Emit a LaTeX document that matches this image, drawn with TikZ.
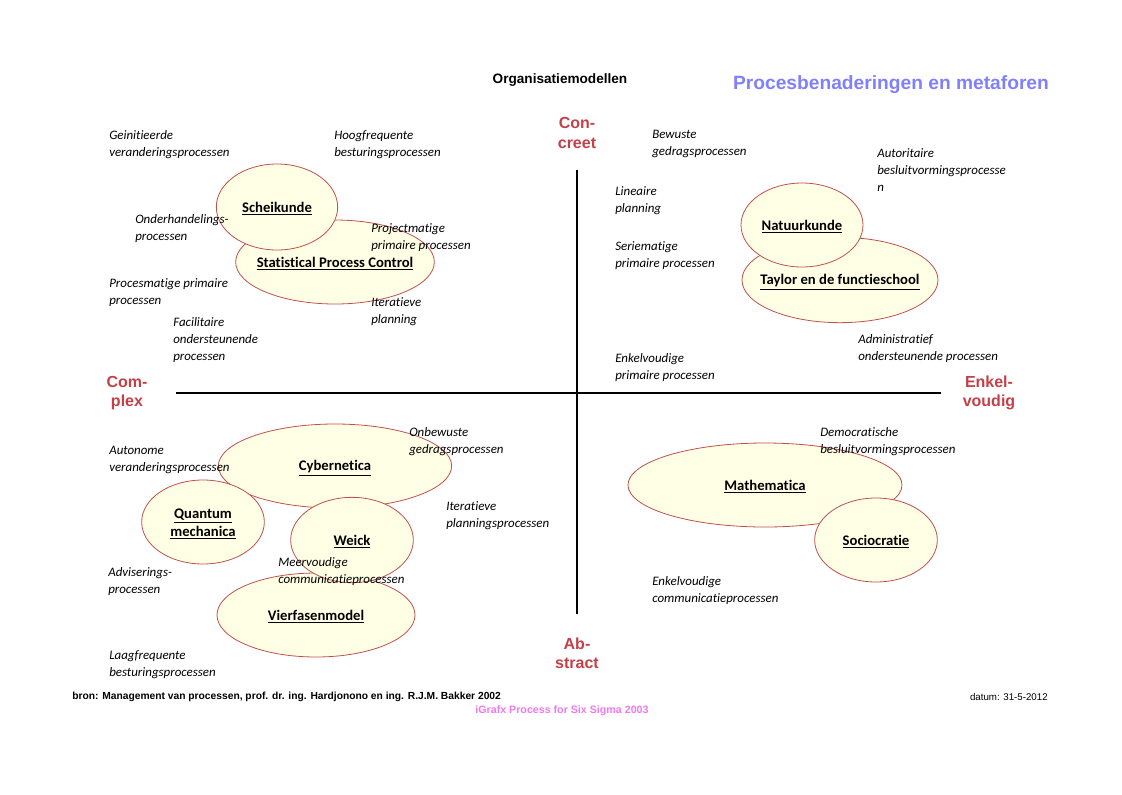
\documentclass[tikz,border=0pt]{standalone}
\usepackage{fontspec}
\setmainfont{Carlito}[Ligatures=NoCommon]
\newfontfamily\arialfont{Liberation Sans}
\usepackage{tikz}
\usetikzlibrary{positioning,shapes}

\definecolor{rand}{RGB}{192,80,77}
\definecolor{vul}{RGB}{255,255,230}
\definecolor{asrood}{RGB}{196,64,72}
\definecolor{titelblauw}{RGB}{128,128,255}
\definecolor{roze}{RGB}{240,120,240}

\begin{document}
\begin{tikzpicture}[x=0.75pt,y=-0.75pt,
    metafoor/.style={ellipse,draw=rand,fill=vul,line width=0.6pt,inner sep=0pt,
        label={[align=center,yshift=-1.5pt,font=\fontsize{11}{13.5}\selectfont\bfseries]center:#1}},
    proces/.style={anchor=north west,inner sep=0pt,align=left,yshift=-3pt,
        font=\fontsize{9.7}{12.75}\selectfont\itshape},
    as/.style={align=center,text=asrood,font=\arialfont\fontsize{12}{14.5}\selectfont\bfseries}]
    \useasboundingbox (0,0) rectangle (1122,794);

    % koppen
    \node[font=\arialfont\fontsize{10.2}{12}\selectfont\bfseries] (kop) at (560,80) {Organisatiemodellen};
    \node[text=titelblauw,font=\arialfont\fontsize{14.4}{16}\selectfont\bfseries] (titel) at (891,85) {Procesbenaderingen en metaforen};

    % assen
    \coordinate (boven) at (577,170);
    \coordinate (onder) at (577,614);
    \coordinate (links) at (176,393);
    \coordinate (rechts) at (941,393);
    \draw[line width=0.8pt] (boven) -- (onder);
    \draw[line width=0.8pt] (links) -- (rechts);
    \node[as] (concreet) at (577,133) {Con-\\creet};
    \node[as] (complex) at (127,393) {Com-\\plex};
    \node[as] (enkelvoudig) at (989,393) {Enkel-\\voudig};
    \node[as] (abstract) at (577,653) {Ab-\\stract};

    % metaforen
    \node[metafoor={\underline{Statistical Process Control}},minimum width=149pt,minimum height=63pt] (spc) at (335,262) {};
    \node[metafoor={\underline{Scheikunde}},minimum width=91pt,minimum height=64.5pt] (scheikunde) at (277,207) {};
    \node[metafoor={\underline{Taylor en de functieschool}},minimum width=147pt,minimum height=64pt] (taylor) at (840,280) {};
    \node[metafoor={\underline{Natuurkunde}},minimum width=91.5pt,minimum height=63pt] (natuurkunde) at (802,225) {};
    \node[metafoor={\underline{Cybernetica}},minimum width=175pt,minimum height=63pt] (cybernetica) at (335,466) {};
    \node[metafoor={\underline{Quantum}\\\underline{mechanica}},minimum width=92pt,minimum height=63pt] (quantum) at (203,522) {};
    \node[metafoor={\underline{Vierfasenmodel}},minimum width=148.5pt,minimum height=63pt] (vierfasen) at (316,615) {};
    \node[metafoor={\underline{Weick}},minimum width=92pt,minimum height=64pt] (weick) at (352,540) {};
    \node[metafoor={\underline{Mathematica}},minimum width=205.5pt,minimum height=63pt] (mathematica) at (765,485) {};
    \node[metafoor={\underline{Sociocratie}},minimum width=92pt,minimum height=63pt] (sociocratie) at (876,540) {};

    % processen
    \node[proces] (geinitieerd) at (109,126) {Geinitieerde\\veranderingsprocessen};
    \node[proces] (hoogfreq) at (334,126) {Hoogfrequente\\besturingsprocessen};
    \node[proces] (onderhandel) at (135,210) {Onderhandelings-\\processen};
    \node[proces] (projectmatig) at (371,219) {Projectmatige\\primaire processen};
    \node[proces] (procesmatig) at (109,274) {Procesmatige primaire\\processen};
    \node[proces] (iteratief) at (371,293) {Iteratieve\\planning};
    \node[proces] (facilitair) at (173,313) {Facilitaire\\ondersteunende\\processen};
    \node[proces] (bewust) at (652,126) {Bewuste\\gedragsprocessen};
    \node[proces] (autoritair) at (877,144) {Autoritaire\\besluitvormingsprocesse\\n};
    \node[proces] (lineair) at (615,182) {Lineaire\\planning};
    \node[proces] (seriematig) at (615,237) {Seriematige\\primaire processen};
    \node[proces] (administratief) at (858,330) {Administratief\\ondersteunende processen};
    \node[proces] (enkelprimair) at (615,349) {Enkelvoudige\\primaire processen};
    \node[proces] (onbewust) at (409,423) {Onbewuste\\gedragsprocessen};
    \node[proces] (autonoom) at (109,442) {Autonome\\veranderingsprocessen};
    \node[proces] (iteratiefplan) at (446,497) {Iteratieve\\planningsprocessen};
    \node[proces] (advies) at (108,563) {Adviserings-\\processen};
    \node[proces] (meervoudig) at (278,553) {Meervoudige\\communicatieprocessen};
    \node[proces] (laagfreq) at (109,646) {Laagfrequente\\besturingsprocessen};
    \node[proces] (democratisch) at (820,423) {Democratische\\besluitvormingsprocessen};
    \node[proces] (enkelcomm) at (652,572) {Enkelvoudige\\communicatieprocessen};

    % voet
    \node[anchor=west,inner sep=0pt,font=\arialfont\fontsize{7.7}{9}\selectfont\bfseries] (bron) at (72,697) {bron: Management van processen, prof. dr. ing. Hardjonono en ing. R.J.M. Bakker 2002};
    \node[anchor=east,inner sep=0pt,font=\arialfont\fontsize{7.3}{9}\selectfont] (datum) at (1048,697) {datum: 31-5-2012};
    \node[text=roze,font=\arialfont\fontsize{8}{9}\selectfont\bfseries] (igrafx) at (562,711) {iGrafx Process for Six Sigma 2003};
\end{tikzpicture}
\end{document}
